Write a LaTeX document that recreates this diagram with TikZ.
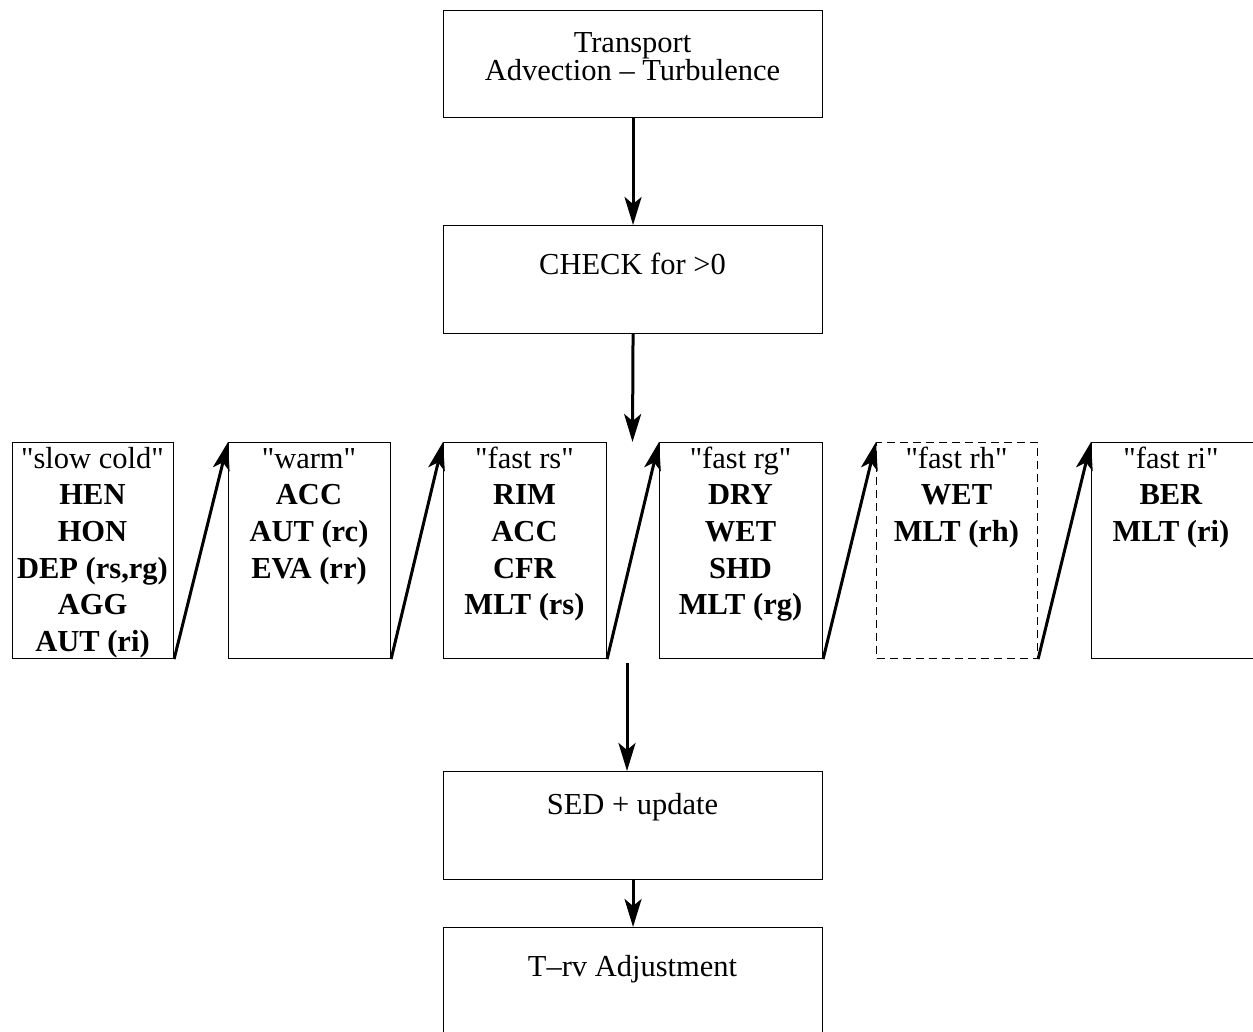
\documentclass[tikz,border=0pt]{standalone}
\usepackage{fontspec}
\setmainfont{Liberation Serif}[Ligatures=TeXOff]
\usetikzlibrary{arrows.meta}
\newcommand\myfs{\fontsize{15.25pt}{18.35pt}\selectfont}
\newcommand\stk[1]{\begin{tabular}[t]{@{}c@{}}#1\end{tabular}}
\begin{document}
\begin{tikzpicture}[x=0.5pt,y=-0.5pt,
  box/.style={draw, line width=0.55pt, inner sep=0pt, anchor=north west},
  lbl/.style={anchor=base, inner sep=0pt, font=\myfs},
  arr/.style={line width=1.5pt, -{Stealth[length=14pt,width=8.5pt,inset=3.5pt]}}]
\useasboundingbox (0,0) rectangle (1253,1032);
% main column boxes
\node[box, minimum width=189.5pt, minimum height=53.5pt] (trans) at (443,10) {};
\node[box, minimum width=189.5pt, minimum height=54pt] (check) at (443,225) {};
\node[box, minimum width=189.5pt, minimum height=54pt] (sed) at (443,771) {};
\node[box, minimum width=189.5pt, minimum height=70pt] (trv) at (443,927) {};
% row boxes
\node[box, minimum width=80.5pt, minimum height=108pt] (slow) at (12,442) {};
\node[box, minimum width=81pt, minimum height=108pt] (warm) at (228,442) {};
\node[box, minimum width=81.5pt, minimum height=108pt] (frs) at (443,442) {};
\node[box, minimum width=81.5pt, minimum height=108pt] (frg) at (659,442) {};
\node[box, dash pattern=on 4pt off 2.5pt, minimum width=80.5pt, minimum height=108pt] (frh) at (876,442) {};
\node[box, minimum width=82pt, minimum height=108pt] (fri) at (1091,442) {};
% texts
\node[lbl] (ttrans) at (632.5,53) {\renewcommand\arraystretch{0.5}\stk{Transport\\Advection – Turbulence}};
\node[lbl] (tcheck) at (632.5,275) {CHECK for >0};
\node[lbl] (tsed) at (632.5,814) {SED + update};
\node[lbl] (ttrv) at (632.5,976) {T–rv Adjustment};
\node[lbl] (tslow) at (92.5,468) {\stk{"slow cold"\\\textbf{HEN}\\\textbf{HON}\\\textbf{DEP (rs,rg)}\\\textbf{AGG}\\\textbf{AUT (ri)}}};
\node[lbl] (twarm) at (309,468) {\stk{"warm"\\\textbf{ACC}\\\textbf{AUT (rc)}\\\textbf{EVA (rr)}}};
\node[lbl] (tfrs) at (524.5,468) {\stk{"fast rs"\\\textbf{RIM}\\\textbf{ACC}\\\textbf{CFR}\\\textbf{MLT (rs)}}};
\node[lbl] (tfrg) at (740.5,468) {\stk{"fast rg"\\\textbf{DRY}\\\textbf{WET}\\\textbf{SHD}\\\textbf{MLT (rg)}}};
\node[lbl] (tfrh) at (956.5,468) {\stk{"fast rh"\\\textbf{WET}\\\textbf{MLT (rh)}}};
\node[lbl] (tfri) at (1171,468) {\stk{"fast ri"\\\textbf{BER}\\\textbf{MLT (ri)}}};
% connectors
\coordinate (rowtop) at (632.5,442);
\coordinate (rowbot) at (627,663);
\draw[arr] (trans.south) -- (check.north);
\draw[arr] (check.south) -- (rowtop);
\draw[arr] (rowbot) -- (rowbot |- sed.north);
\draw[arr] (sed.south) -- (trv.north);
\draw[arr] (slow.south east) -- (warm.north west);
\draw[arr] (warm.south east) -- (frs.north west);
\draw[arr] (frs.south east) -- (frg.north west);
\draw[arr] (frg.south east) -- (frh.north west);
\draw[arr] (frh.south east) -- (fri.north west);
\end{tikzpicture}
\end{document}
